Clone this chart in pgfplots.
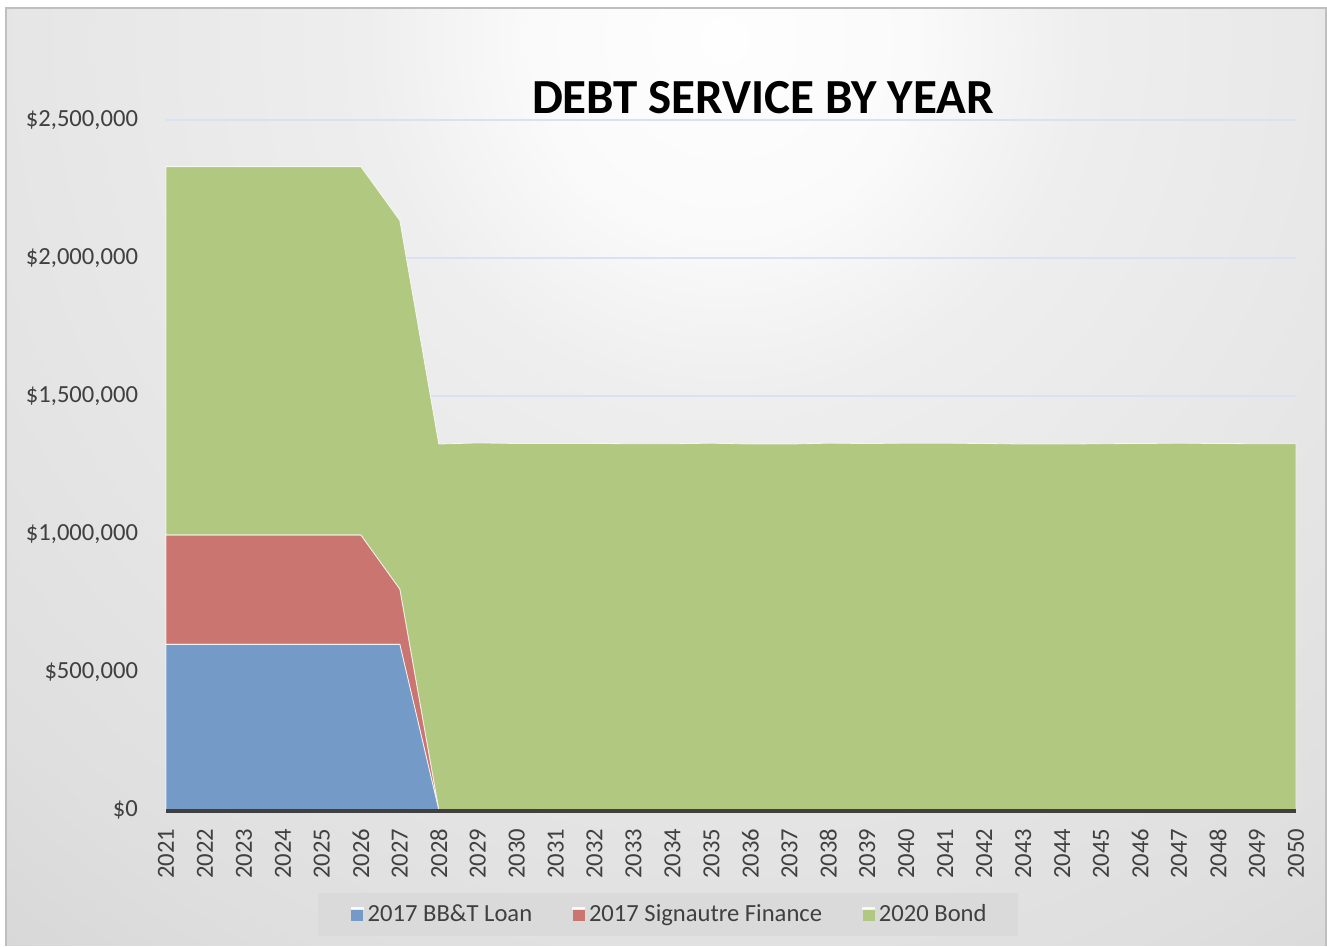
\documentclass[border=0pt]{standalone}
\usepackage{pgfplots}
\pgfplotsset{compat=1.18}
\usepackage{fontspec}
\setmainfont{Carlito}
\definecolor{cblue}{RGB}{116,155,199}
\definecolor{cred}{RGB}{203,117,113}
\definecolor{cgreen}{RGB}{176,200,127}
\definecolor{txt}{RGB}{64,64,64}
\definecolor{axc}{RGB}{64,64,64}
\definecolor{gridc}{RGB}{216,226,240}
\definecolor{legbg}{RGB}{218,218,218}
\definecolor{g0}{RGB}{254,254,254}
\definecolor{g1}{RGB}{250,250,250}
\definecolor{g2}{RGB}{238,238,238}
\definecolor{g3}{RGB}{223,223,223}
\definecolor{g4}{RGB}{214,214,214}
\definecolor{g5}{RGB}{209,209,209}
\definecolor{g6}{RGB}{204,204,204}
\definecolor{g7}{RGB}{199,199,199}
\definecolor{g8}{RGB}{194,194,194}
\pgfdeclareradialshading{bgshade}{\pgfpoint{0bp}{0bp}}{color(0bp)=(g0); color(4bp)=(g1); color(7.5bp)=(g2); color(20.5bp)=(g3); color(25bp)=(g4); color(30bp)=(g5); color(37.5bp)=(g6); color(42.5bp)=(g7); color(50bp)=(g8)}

\pgfplotstableread{
year blue red green
2021 600000 396000 1335000
2022 600000 396000 1335000
2023 600000 396000 1335000
2024 600000 396000 1335000
2025 600000 396000 1335000
2026 600000 396000 1335000
2027 600000 200000 1336000
2028 0 0 1326000
2029 0 0 1330000
2030 0 0 1328000
2031 0 0 1328000
2032 0 0 1328000
2033 0 0 1327000
2034 0 0 1327000
2035 0 0 1329000
2036 0 0 1326000
2037 0 0 1326000
2038 0 0 1329000
2039 0 0 1328000
2040 0 0 1329000
2041 0 0 1329000
2042 0 0 1328000
2043 0 0 1326000
2044 0 0 1326000
2045 0 0 1327000
2046 0 0 1328000
2047 0 0 1329000
2048 0 0 1328000
2049 0 0 1327000
2050 0 0 1327000
}\datatable

\begin{document}
\begin{tikzpicture}
\fill[white] (0,0) rectangle (663.5pt,473pt);
\begin{scope}
\clip (3pt,0) rectangle (663pt,469pt);
\shade[shading=bgshade] (362.5pt,453pt) circle (600pt);
\end{scope}
\draw[black!25, line width=0.8pt] (3pt,0) -- (3pt,469pt) -- (663pt,469pt) -- (663pt,0);
\node[font=\fontsize{24.5}{29}\selectfont\bfseries, text=black] at (381.5pt,424pt) {DEBT SERVICE BY YEAR};
\begin{axis}[
  at={(83pt,68pt)}, anchor=south west,
  scale only axis, width=565pt, height=345pt,
  xmin=2021, xmax=2050, ymin=0, ymax=2500000,
  xtick={2021,...,2050}, ytick={0,500000,1000000,1500000,2000000,2500000},
  scaled y ticks=false,
  major tick length=0pt,
  axis line style={draw=none},
  clip=false,
  ymajorgrids, grid style={gridc, line width=0.75pt},
  xticklabel={\pgfmathprintnumber[fixed,precision=0,1000 sep={},assume math mode=true]{\tick}},
  yticklabel={\$\pgfmathprintnumber[fixed,precision=0,1000 sep={,},assume math mode=true]{\tick}},
  x tick label style={rotate=90, anchor=east, font=\fontsize{12.3}{14}\selectfont, text=txt},
  y tick label style={font=\fontsize{12.3}{14}\selectfont, text=txt},
  xticklabel shift=6pt,
  yticklabel shift=10.5pt,
  stack plots=y,
  legend style={at={(0.444,-0.151)}, anchor=center, legend columns=3, fill=legbg, draw=none,
    font=\fontsize{12.3}{14}\selectfont, text=txt, inner xsep=13.5pt, inner ysep=3.8pt,
    /tikz/every even column/.append style={column sep=15pt}},
  legend image code/.code={\path (-3pt,0pt); \fill[#1,draw=none] (0pt,-3.2pt) rectangle (6pt,3.2pt); \fill[white] (0pt,2.5pt) rectangle (6pt,3.2pt);},
]
\addplot[fill=cblue, draw=white, draw opacity=0.8, line width=0.4pt] table[x=year,y=blue] {\datatable} \closedcycle;
\addlegendentry{2017 BB\&T Loan}
\addplot[fill=cred, draw=white, draw opacity=0.8, line width=0.4pt] table[x=year,y=red] {\datatable} \closedcycle;
\addlegendentry{2017 Signautre Finance}
\addplot[fill=cgreen, draw=white, draw opacity=0.8, line width=0.4pt] table[x=year,y=green] {\datatable} \closedcycle;
\addlegendentry{2020 Bond}
\coordinate (axL) at (axis cs:2021,0);
\coordinate (axR) at (axis cs:2050,0);
\end{axis}
\draw[draw=axc, line width=2pt] ([yshift=-0.6pt]axL) -- ([yshift=-0.6pt]axR);
\end{tikzpicture}
\end{document}
